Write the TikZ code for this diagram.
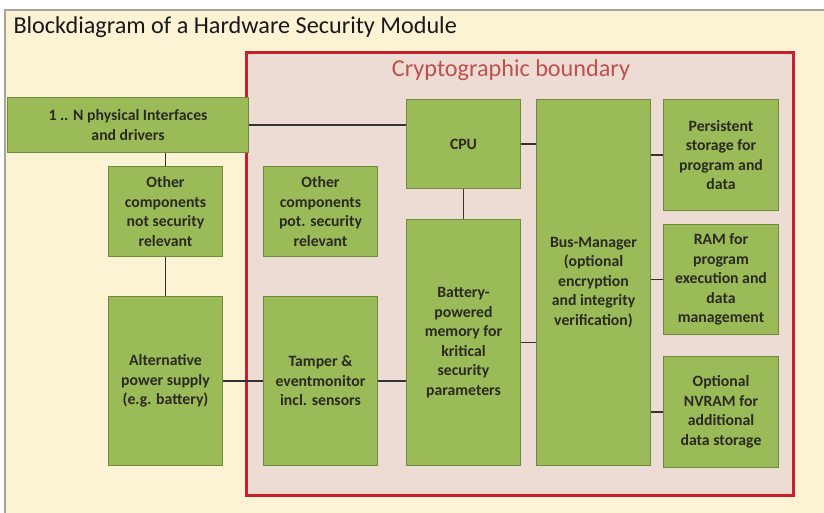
\documentclass[tikz,border=0pt]{standalone}
\usepackage{fontspec}
\setmainfont{Carlito}
\definecolor{cream}{HTML}{FCF3D5}
\definecolor{framegray}{HTML}{A8A49A}
\definecolor{pinkfill}{HTML}{ECDCD4}
\definecolor{redline}{HTML}{C8202A}
\definecolor{redtext}{HTML}{C0504D}
\definecolor{boxgreen}{HTML}{9BBB59}
\definecolor{boxline}{HTML}{6F8A3C}
\definecolor{boxtext}{HTML}{2A2A22}
\definecolor{linkc}{HTML}{333333}
\begin{document}
\begin{tikzpicture}[x=1bp,y=-1bp,
  box/.style={draw=boxline, fill=boxgreen, line width=0.9bp, inner sep=0pt,
    align=center, text=boxtext, font=\fontsize{15.8}{19.6}\selectfont\bfseries},
  link/.style={draw=linkc, line width=1.6bp}]
\useasboundingbox (0,0) rectangle (824,513);
\fill[white] (0,0) rectangle (824,513);
\begin{scope}
\clip (0,0) rectangle (824,513);
\draw[framegray, fill=cream, line width=1.2bp] (5,10) rectangle (840,530);
\end{scope}
\node[anchor=base west, font=\fontsize{24.3}{28}\selectfont, text=black!90] (title) at (10,34) {Blockdiagram of a Hardware Security Module};
\draw[redline, fill=pinkfill, line width=3bp] (246,53) rectangle (793,495);
\node[anchor=base, font=\fontsize{24.3}{28}\selectfont, text=redtext] (cb) at (511,77) {Cryptographic boundary};

\node[box, minimum width=242, minimum height=56] (iface) at (128,125) {1 .. N physical Interfaces\\and drivers};
\node[box, minimum width=115, minimum height=91] (other1) at (165.5,211.5) {Other\\components\\not security\\relevant};
\node[box, minimum width=115, minimum height=91] (other2) at (320.5,211.5) {Other\\components\\pot. security\\relevant};
\node[box, minimum width=115, minimum height=170] (altpow) at (165.5,381) {Alternative\\power supply\\(e.g. battery)};
\node[box, minimum width=115, minimum height=170] (tamper) at (320.5,381) {Tamper \&\\eventmonitor\\incl. sensors};
\node[box, minimum width=115, minimum height=90] (cpu) at (463.5,144) {CPU};
\node[box, minimum width=115, minimum height=247] (mem) at (463.5,342.5) {Battery-\\powered\\memory for\\kritical\\security\\parameters};
\node[box, minimum width=115, minimum height=367] (bus) at (593.5,282.5) {Bus-Manager\\(optional\\encryption\\and integrity\\verification)};
\node[box, minimum width=116, minimum height=112] (pers) at (721,155) {Persistent\\storage for\\program and\\data};
\node[box, minimum width=116, minimum height=111] (ram) at (721,279.5) {RAM for\\program\\execution and\\data\\management};
\node[box, minimum width=116, minimum height=112] (nvram) at (721,412) {Optional\\NVRAM for\\additional\\data storage};

\draw[link] (iface.east) -- (iface.east -| cpu.west);
\draw[link] (other1.north) -- (other1.north |- iface.south);
\draw[link] (other1.south) -- (altpow.north);
\draw[link] (altpow.east) -- (tamper.west);
\draw[link] (tamper.east) -- (tamper.east -| mem.west);
\draw[link] (cpu.south) -- (mem.north);
\draw[link] (cpu.east) -- (cpu.east -| bus.west);
\draw[link] (mem.east) -- (mem.east -| bus.west);
\draw[link] (pers.west) -- (pers.west -| bus.east);
\draw[link] (ram.west) -- (ram.west -| bus.east);
\draw[link] (nvram.west) -- (nvram.west -| bus.east);
\end{tikzpicture}
\end{document}
